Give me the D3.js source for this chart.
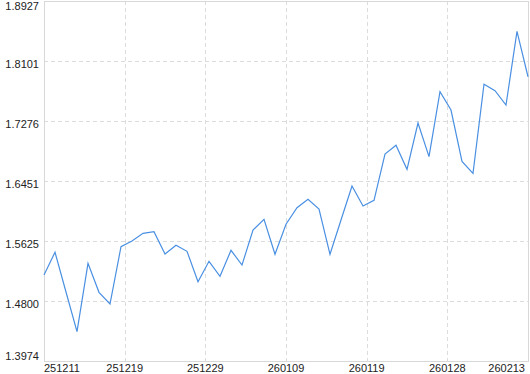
<!DOCTYPE html>
<html>
<head>
<meta charset="utf-8">
<script src="https://cdn.jsdelivr.net/npm/d3@7"></script>
<style>
  body { margin: 0; background: #fff; }
  svg { display: block; }
</style>
</head>
<body>
<div id="chart"></div>
<script>
// values, one per trading day
let values = [
    1.5157, 1.5470, 1.4923, 1.4377, 1.5318, 1.4919, 1.4758, 1.5547, 1.5625, 1.5731,
    1.5753, 1.5446, 1.5566, 1.5483, 1.5065, 1.5346, 1.5139, 1.5497, 1.5295, 1.5776,
    1.5924, 1.5442, 1.5855, 1.6083, 1.6199, 1.6065, 1.5442, 1.5914, 1.6382, 1.6106,
    1.6185, 1.6822, 1.6942, 1.6611, 1.7248, 1.6785, 1.7679, 1.7427, 1.6719, 1.6556,
    1.7781, 1.7693, 1.7496, 1.8510, 1.7885
];
let xLabels = ["251211", "251219", "251229", "260109", "260119", "260128", "260213"];
let yTicks = [1.3974, 1.4800, 1.5625, 1.6451, 1.7276, 1.8101, 1.8927];

function init() {
    let width = 530, height = 374;
    let plot = {left: 44, right: 528, top: 1, bottom: 361};

    let svg = d3.select("#chart")
        .append("svg")
        .attr("width", width)
        .attr("height", height);

    let x = d3.scaleLinear()
        .domain([0, values.length - 1])
        .range([plot.left, plot.right]);

    let xl = d3.scalePoint()
        .domain(xLabels)
        .range([plot.left, plot.right]);

    let y = d3.scaleLinear()
        .domain([yTicks[0], yTicks[yTicks.length - 1]])
        .range([plot.bottom, plot.top]);

    let font = "'Liberation Sans', Arial, sans-serif";

    // horizontal grid
    svg.append("g")
        .selectAll("line")
        .data(yTicks.slice(1, -1))
        .enter()
        .append("line")
        .attr("x1", plot.left)
        .attr("x2", plot.right)
        .attr("y1", d => Math.round(y(d)) + 0.5)
        .attr("y2", d => Math.round(y(d)) + 0.5)
        .attr("stroke", "#dcdcdc")
        .attr("stroke-dasharray", "4,3");

    // vertical grid
    svg.append("g")
        .selectAll("line")
        .data(xLabels.slice(1, -1))
        .enter()
        .append("line")
        .attr("x1", d => Math.round(xl(d)) + 0.5)
        .attr("x2", d => Math.round(xl(d)) + 0.5)
        .attr("y1", plot.top)
        .attr("y2", plot.bottom)
        .attr("stroke", "#dcdcdc")
        .attr("stroke-dasharray", "4,3");

    // frame
    svg.append("rect")
        .attr("x", plot.left + 0.5)
        .attr("y", plot.top + 0.5)
        .attr("width", plot.right - plot.left)
        .attr("height", plot.bottom - plot.top)
        .attr("fill", "none")
        .attr("stroke", "#d8d8d8");

    // y labels
    svg.append("g")
        .selectAll("text")
        .data(yTicks)
        .enter()
        .append("text")
        .attr("x", 39)
        .attr("y", d => Math.min(360, Math.max(10, y(d) + 7)))
        .attr("text-anchor", "end")
        .attr("font-family", font)
        .attr("font-size", "11px")
        .attr("fill", "#222")
        .text(d => d.toFixed(4));

    // x labels
    svg.append("g")
        .selectAll("text")
        .data(xLabels)
        .enter()
        .append("text")
        .attr("x", (d, i) => i === xLabels.length - 1 ? xl(d) - 3 : xl(d))
        .attr("y", 372)
        .attr("text-anchor", (d, i) => i === 0 ? "start" : (i === xLabels.length - 1 ? "end" : "middle"))
        .attr("font-family", font)
        .attr("font-size", "11px")
        .attr("fill", "#222")
        .text(d => d);

    // the series
    svg.append("path")
        .datum(values)
        .attr("fill", "none")
        .attr("stroke", "#4a90e2")
        .attr("stroke-width", 1.2)
        .attr("stroke-linejoin", "miter")
        .attr("d", d3.line()
            .x((d, i) => x(i))
            .y(d => y(d)));
}

init();
</script>
</body>
</html>
